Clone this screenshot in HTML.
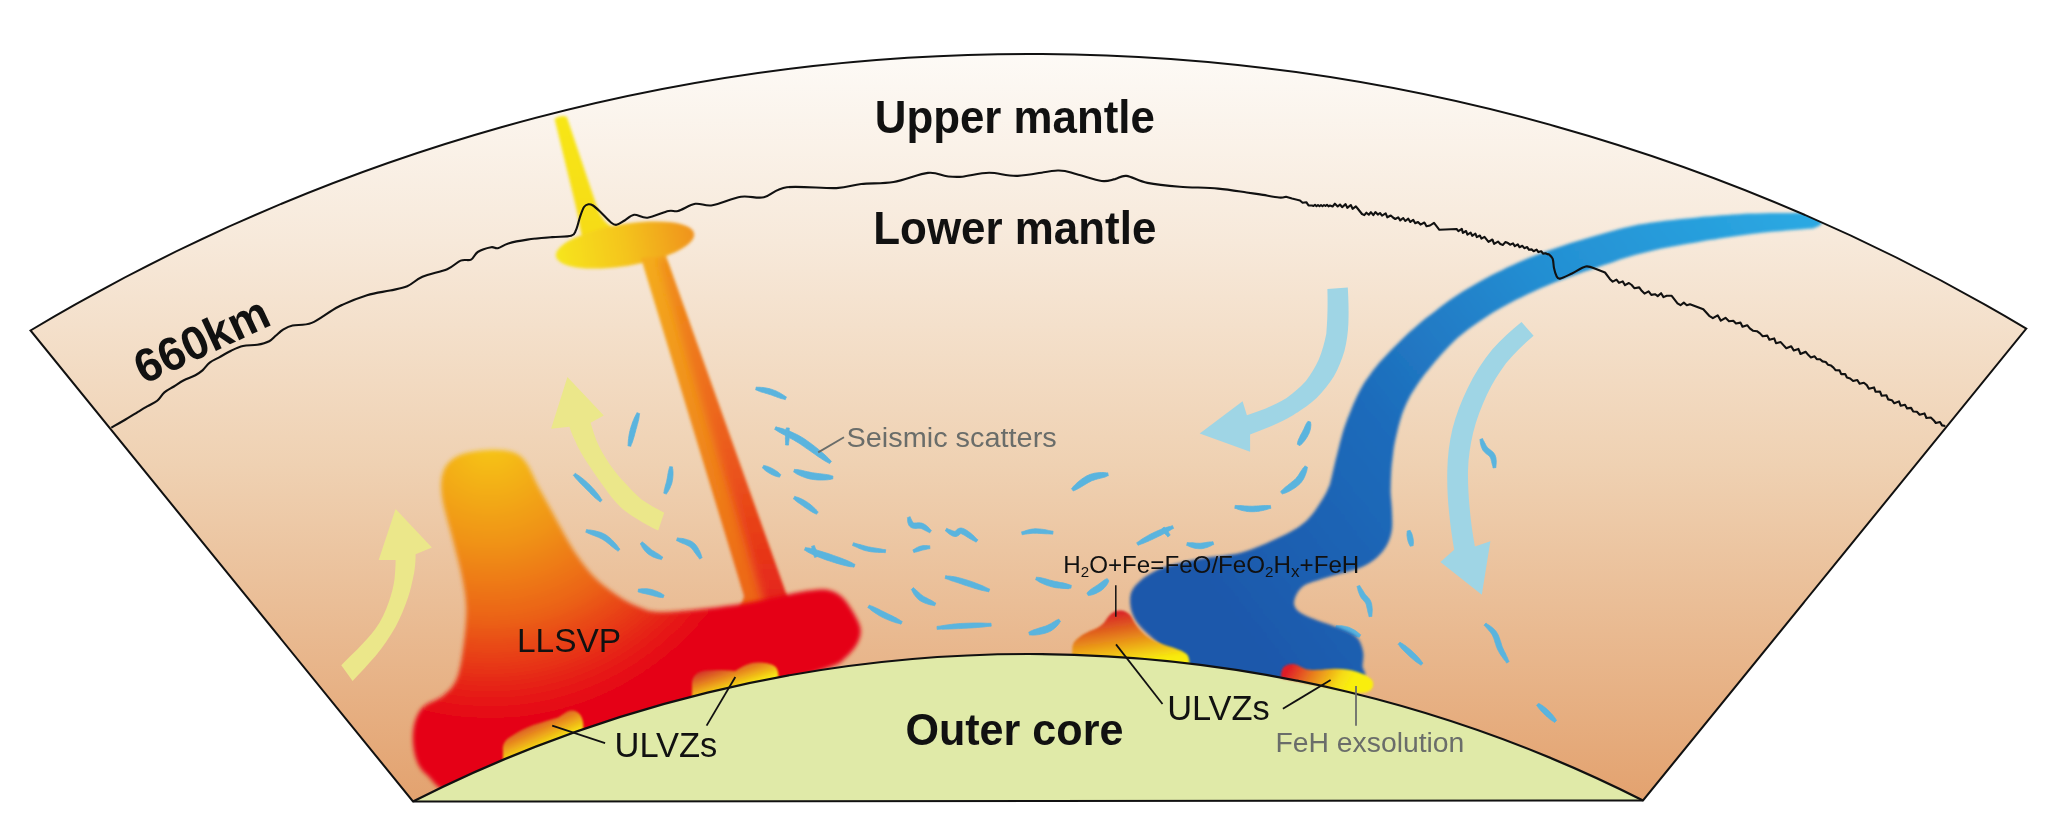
<!DOCTYPE html>
<html><head><meta charset="utf-8">
<style>
html,body{margin:0;padding:0;background:#fff;}
body{width:2048px;height:839px;overflow:hidden;}
svg{display:block;}
text{font-family:"Liberation Sans",sans-serif;}
</style></head>
<body>
<svg width="2048" height="839" viewBox="0 0 2048 839">
<defs>
  <linearGradient id="gM" x1="0" y1="55" x2="0" y2="801" gradientUnits="userSpaceOnUse">
    <stop offset="0" stop-color="#fdfaf6"/>
    <stop offset="0.25" stop-color="#f7e9da"/>
    <stop offset="0.55" stop-color="#efd1b2"/>
    <stop offset="1" stop-color="#e3a26f"/>
  </linearGradient>
  <radialGradient id="gL" cx="490" cy="440" r="300" gradientUnits="userSpaceOnUse">
    <stop offset="0" stop-color="#f6c81a"/>
    <stop offset="0.35" stop-color="#f09218"/>
    <stop offset="0.6" stop-color="#eb6216"/>
    <stop offset="0.8" stop-color="#e62a18"/>
    <stop offset="0.95" stop-color="#e50014"/>
  </radialGradient>
  <linearGradient id="gS" x1="1800" y1="215" x2="1250" y2="640" gradientUnits="userSpaceOnUse">
    <stop offset="0" stop-color="#2aa8e2"/>
    <stop offset="0.35" stop-color="#238ed2"/>
    <stop offset="0.65" stop-color="#1e6cbb"/>
    <stop offset="1" stop-color="#1c58ab"/>
  </linearGradient>
  <linearGradient id="gD" x1="556" y1="0" x2="694" y2="0" gradientUnits="userSpaceOnUse">
    <stop offset="0" stop-color="#f6e51c"/>
    <stop offset="0.5" stop-color="#f4c41c"/>
    <stop offset="1" stop-color="#f0931b"/>
  </linearGradient>
  <linearGradient id="gC" x1="0" y1="117" x2="0" y2="250" gradientUnits="userSpaceOnUse">
    <stop offset="0" stop-color="#f7e612"/>
    <stop offset="1" stop-color="#f6da12"/>
  </linearGradient>
  <linearGradient id="gT" x1="650" y1="260" x2="760" y2="600" gradientUnits="userSpaceOnUse">
    <stop offset="0" stop-color="#f4ab1c"/>
    <stop offset="0.5" stop-color="#f08a1a"/>
    <stop offset="1" stop-color="#ec6418"/>
  </linearGradient>
  <linearGradient id="gT2" x1="0" y1="260" x2="0" y2="600" gradientUnits="userSpaceOnUse">
    <stop offset="0" stop-color="#ee7a1a" stop-opacity="0.55"/>
    <stop offset="0.5" stop-color="#ea501a" stop-opacity="0.7"/>
    <stop offset="1" stop-color="#e41e1c" stop-opacity="0.9"/>
  </linearGradient>
  <clipPath id="cpStem"><path d="M641,258 L666,256 L787,596 Q792,604 800,608 L735,612 Q742,606 744,596 Z"/></clipPath>
  <filter id="b4" x="-50%" y="-10%" width="200%" height="120%"><feGaussianBlur stdDeviation="4"/></filter>
  <linearGradient id="gU1" x1="0.15" y1="0.05" x2="0.7" y2="0.95">
    <stop offset="0" stop-color="#d2302a"/>
    <stop offset="0.45" stop-color="#e98e1e"/>
    <stop offset="0.8" stop-color="#f7e213"/>
    <stop offset="1" stop-color="#f9ee10"/>
  </linearGradient>
  <linearGradient id="gU2" x1="0.35" y1="0" x2="0.65" y2="1">
    <stop offset="0" stop-color="#d81a2a"/>
    <stop offset="0.3" stop-color="#e0621e"/>
    <stop offset="0.7" stop-color="#f2c614"/>
    <stop offset="0.85" stop-color="#f8ea10"/>
    <stop offset="1" stop-color="#f9ee10"/>
  </linearGradient>
  <linearGradient id="gUa" x1="533" y1="716" x2="548" y2="750" gradientUnits="userSpaceOnUse">
    <stop offset="0" stop-color="#d2302a"/>
    <stop offset="0.45" stop-color="#e98e1e"/>
    <stop offset="0.85" stop-color="#f7e213"/>
    <stop offset="1" stop-color="#f9ee10"/>
  </linearGradient>
  <linearGradient id="gUb" x1="728" y1="662" x2="738" y2="692" gradientUnits="userSpaceOnUse">
    <stop offset="0" stop-color="#d2302a"/>
    <stop offset="0.45" stop-color="#e98e1e"/>
    <stop offset="0.85" stop-color="#f7e213"/>
    <stop offset="1" stop-color="#f9ee10"/>
  </linearGradient>
  <linearGradient id="gUc" x1="1292" y1="662" x2="1345" y2="694" gradientUnits="userSpaceOnUse">
    <stop offset="0" stop-color="#e01a28"/>
    <stop offset="0.4" stop-color="#e8801e"/>
    <stop offset="0.8" stop-color="#f6dc14"/>
    <stop offset="1" stop-color="#f9ee10"/>
  </linearGradient>
  <filter id="b3" x="-20%" y="-20%" width="140%" height="140%"><feGaussianBlur stdDeviation="2.6"/></filter>
  <filter id="b25" x="-20%" y="-20%" width="140%" height="140%"><feGaussianBlur stdDeviation="2.2"/></filter>
  <filter id="b2" x="-20%" y="-20%" width="140%" height="140%"><feGaussianBlur stdDeviation="1.8"/></filter>
  <filter id="b1" x="-20%" y="-20%" width="140%" height="140%"><feGaussianBlur stdDeviation="0.8"/></filter>
  <clipPath id="cpM"><path d="M30.5,330.5 A1944,1944 0 0 1 2026.3,328.6 L1643,800.5 A1360,1360 0 0 0 413,801.5 Z"/></clipPath>
</defs>
<rect width="2048" height="839" fill="#fff"/>
<!-- mantle -->
<path d="M30.5,330.5 A1944,1944 0 0 1 2026.3,328.6 L1643,800.5 L413,801.5 Z" fill="url(#gM)"/>
<!-- core -->
<path d="M413,801.5 A1360,1360 0 0 1 1643,800.5 Z" fill="#e0eaa8"/>

<g clip-path="url(#cpM)">
  <!-- plume column -->
  <g filter="url(#b2)">
    <path d="M554.6,119 Q560,114.5 566.8,116.8 L597,207 Q602,223 616,229 L600,250 L585,250 L580,228 Q578,215 575,203 Z" fill="url(#gC)"/>
    <ellipse cx="625" cy="245" rx="70" ry="21" transform="rotate(-9.3 625 245)" fill="url(#gD)"/>
    <path d="M641,258 L666,256 L787,596 Q792,604 800,608 L735,612 Q742,606 744,596 Z" fill="url(#gT)"/>
    <path d="M657,258 L685,256 L812,612 L767,612 Z" fill="url(#gT2)" filter="url(#b4)" clip-path="url(#cpStem)"/>
  </g>
  <!-- LLSVP -->
  <path d="M444.1,469.7C447.1,462.8 452.6,458.3 460,455C467.4,451.7 479.5,450.4 488.2,449.9C496.9,449.4 505.8,450 512,452C518.2,454 521.3,456.1 525.7,462C530.1,467.9 534.3,479.1 538.6,487.2C542.9,495.3 547.2,502.9 551.5,510.8C555.8,518.7 560,526.9 564.3,534.4C568.6,541.9 572.2,548.6 577.2,555.8C582.2,562.9 588,570.9 594.4,577.3C600.8,583.7 608.3,589.4 615.8,594.4C623.3,599.4 631.2,604.4 639.4,607.3C647.5,610.2 649.5,612.3 664.7,612C680,611.7 710.3,608.4 730.9,605.5C751.5,602.6 775,596.9 788.2,594.4C801.4,591.9 803.4,591.2 810,590.5C816.6,589.8 822.7,588.9 828,590C833.3,591.1 837.8,593.3 842,597C846.2,600.7 849.9,606.7 853,612C856.1,617.3 859.8,623.7 860.5,629C861.2,634.3 859.6,639.2 857,644C854.4,648.8 849.5,654.2 845,658C840.5,661.8 844.2,661.7 830,667C815.8,672.3 785,682.5 760,690C735,697.5 706.7,704.2 680,712C653.3,719.8 626.7,728 600,737C573.3,746 544.2,756.8 520,766C495.8,775.2 470.6,790.6 455,792C439.4,793.4 433.1,780.4 426.5,774.5C419.9,768.6 417.7,764.2 415.5,756.9C413.3,749.5 412.2,738.5 413.3,730.4C414.4,722.3 416.9,714.2 422,708.3C427.1,702.4 438.3,700.2 444.2,695C450.1,689.8 454.1,686.1 457.4,677.3C460.7,668.5 462.5,653.8 464,642C465.5,630.2 466.7,617.7 466.3,606.7C465.9,595.7 464,586.8 461.8,575.8C459.6,564.8 456.3,553.6 453,540.4C449.7,527.1 443.5,508.1 442,496.3C440.5,484.5 441.1,476.6 444.1,469.7Z" fill="url(#gL)" filter="url(#b25)"/>
  <!-- yellow arrows -->
  <g fill="#ebe78a">
    <path d="M341.3,665.2 C347,659 352,654.5 357.2,649.4 C364,642.5 370,636 375.3,629 C381,621 385.5,612 388.8,601.9 C391.5,594 393.5,587 394.5,579.2 C395.2,572 395.6,566 395.6,560 L378.7,560 L395.6,509 L431.9,547.5 L415.6,554.3 C415.6,561 415.2,566.5 414.2,572.4 C412.5,581 410.8,589 408.1,597.3 C404.5,608 400.5,617.5 395.6,626.8 C389.5,637.5 383,647 375.3,656.2 C368,664.5 361,672 352.6,681.1 Z"/>
    <path d="M658.2,530.6 C651,527 643.5,523 636.7,518.7 C630.5,515 625,511 620.1,506.7 C614.5,501 609.3,494.5 604.6,487.7 C598.5,479.5 593,471.5 587.9,463.8 C582.5,455.5 578,448 574.8,440 C572.5,435.5 570.8,431 569.4,426.7 L551.1,428.8 L567.4,377.1 L603.8,415.6 L590.6,422.7 C592.3,428.5 594.2,434.3 596.2,440 C599.8,448.5 604.3,456.3 609.3,463.8 C614.3,471 619.8,477.8 626,484.1 C630.8,489.5 636,494.8 641.5,499.6 C648.7,504.5 656.3,508.8 664.2,512.7 Z"/>
  </g>
  <!-- blue arrows -->
  <g fill="#9fd5e5">
    <path d="M1327.4,289 L1347.8,287.5 C1348.5,300 1348.8,311 1348.4,322.9 C1348,332.5 1346.8,341.8 1344.5,350.8 C1341.8,360 1338.3,368.5 1333.8,376.6 C1328.8,384.5 1323,391.5 1316.6,398 C1309.2,404.5 1301.5,410.2 1293,415.2 C1286,419.3 1279,422.8 1271.6,426 C1264.5,429 1257.5,431.8 1250.1,434.5 L1250.1,451.7 L1199.7,433.5 L1242.6,401.3 L1246.9,415.2 C1253.2,413.2 1259.2,411.2 1265.1,408.8 C1272.5,405.6 1279.8,402 1286.6,398 C1293.5,393 1300,387.5 1305.9,380.9 C1310.8,374.5 1315.2,367.3 1318.8,359.4 C1322.2,351 1324.6,342.5 1326.3,333.7 C1327.6,319 1327.8,304 1327.4,289 Z"/>
    <path d="M1521.5,321.9 C1511,330.5 1501,339.5 1492.2,349.5 C1483,361 1474.6,373.6 1468,387.5 C1461.3,401 1456,415 1452.4,429 C1449.2,442.5 1447.6,456.5 1447.3,470.4 C1447,484.5 1447.6,498 1449,511.8 C1450.2,524.5 1452,537 1454.2,549.8 L1440.4,561.9 L1481.8,594.7 L1490.4,541.2 L1474.9,546.4 C1472.6,534 1470.8,521 1469.7,508.4 C1468.5,495.5 1467.8,483 1468,470.4 C1468.3,457.5 1470.3,444.8 1473.2,432.4 C1476.6,419 1481.3,406.5 1487,394.4 C1492.3,383.3 1498.8,373 1506,363.3 C1514.3,353.3 1523.5,344 1533.6,335.7 Z"/>
  </g>
  <!-- squiggles -->
  <g fill="#5ab4de" stroke="#5ab4de" stroke-width="0.8" stroke-linejoin="round"><path d="M636.9,412.7 636.6,413.6 636.1,414.5 635.5,415.6 634.9,416.9 634.2,418.3 633.6,419.9 632.9,421.4 632.3,423 631.8,424.7 631.2,426.3 630.8,427.8 630.3,429.3 630,430.7 629.6,432.3 629.3,433.8 629,435.4 628.8,437 628.6,438.6 628.4,440 628.3,441.5 628.2,442.8 628.2,443.9 628.1,444.9 627.9,445.7 630.9,446.3 631,445.5 631.3,444.6 631.8,443.5 632.3,442.3 632.7,441 633.2,439.5 633.6,438.1 634.1,436.6 634.5,435 634.9,433.5 635.3,432.1 635.7,430.7 636,429.3 636.5,427.8 636.9,426.3 637.3,424.6 637.8,423 638.2,421.3 638.6,419.8 638.9,418.2 639.1,416.8 639.3,415.5 639.5,414.5 639.7,413.7Z"/><path d="M669.6,466.7 669.5,467.4 669.3,468.2 669,469.2 668.7,470.4 668.4,471.6 668.2,472.9 667.9,474.2 667.7,475.6 667.5,476.9 667.3,478.1 667,479.3 666.8,480.4 666.6,481.4 666.3,482.6 666,483.7 665.6,484.9 665.3,486.1 665,487.3 664.7,488.5 664.4,489.6 664.2,490.7 664.1,491.7 663.9,492.5 663.7,493.1 666.5,494.1 666.7,493.5 667.1,492.8 667.7,492.1 668.3,491.1 668.8,490.1 669.4,489 670,487.9 670.5,486.6 671,485.4 671.5,484.1 671.9,482.8 672.2,481.6 672.4,480.3 672.6,479 672.8,477.6 672.9,476.2 673,474.7 673,473.3 673,472 672.9,470.7 672.8,469.5 672.6,468.5 672.5,467.6 672.6,466.9Z"/><path d="M573.3,475.4 574,476 574.7,476.9 575.5,477.9 576.5,479.1 577.6,480.3 578.7,481.5 579.9,482.8 581.2,484.1 582.5,485.4 583.7,486.6 584.9,487.8 586.1,488.9 587.2,490.1 588.4,491.3 589.7,492.6 591,493.9 592.3,495.2 593.6,496.5 594.9,497.7 596.2,498.8 597.4,499.8 598.5,500.6 599.4,501.4 600,502.1 602.2,500.1 601.6,499.4 600.9,498.5 600.2,497.3 599.3,496 598.3,494.6 597.2,493.2 596,491.8 594.8,490.3 593.6,488.9 592.3,487.6 591.1,486.3 589.9,485.1 588.7,483.9 587.5,482.7 586.1,481.5 584.7,480.3 583.3,479.1 581.9,478 580.6,477 579.3,476 578,475.2 576.9,474.5 576,473.8 575.3,473.2Z"/><path d="M585.8,532.3 586.6,532.6 587.7,533 589,533.6 590.4,534.2 591.9,534.8 593.5,535.4 595.1,536 596.8,536.7 598.4,537.3 599.9,538 601.3,538.7 602.6,539.4 603.8,540.2 605.2,541.1 606.6,542.2 608,543.3 609.5,544.5 610.9,545.7 612.4,546.9 613.7,548 615,549 616.3,549.8 617.3,550.6 618,551.3 620,549.1 619.3,548.5 618.5,547.5 617.7,546.3 616.7,545 615.5,543.6 614.3,542.2 612.9,540.8 611.5,539.4 610,538 608.5,536.8 606.9,535.6 605.4,534.6 603.8,533.8 602.1,533 600.3,532.3 598.5,531.8 596.6,531.3 594.8,530.8 593.1,530.5 591.5,530.2 589.9,530 588.6,529.9 587.5,529.7 586.6,529.5Z"/><path d="M640.2,543.8 640.6,544.2 641,544.9 641.4,545.7 641.9,546.6 642.4,547.6 643.1,548.6 643.8,549.6 644.6,550.6 645.5,551.6 646.4,552.5 647.4,553.4 648.4,554.2 649.4,554.9 650.6,555.6 651.8,556.3 653,556.9 654.3,557.4 655.5,557.9 656.8,558.3 658,558.7 659.1,559 660.1,559.1 660.9,559.4 661.4,559.6 662.8,557 662.2,556.7 661.4,556.2 660.6,555.5 659.7,554.9 658.7,554.2 657.6,553.5 656.5,552.9 655.4,552.2 654.4,551.6 653.4,550.9 652.4,550.4 651.6,549.8 650.9,549.2 650.1,548.5 649.3,547.8 648.4,547 647.5,546.2 646.7,545.4 645.8,544.7 645,544 644.2,543.3 643.4,542.8 642.8,542.3 642.4,541.8Z"/><path d="M676.5,540.6 677.3,540.9 678.2,541.3 679.3,541.9 680.5,542.4 681.8,543 683.2,543.6 684.6,544.1 685.9,544.7 687.2,545.3 688.4,545.9 689.4,546.6 690.3,547.1 691,547.8 691.9,548.7 692.7,549.7 693.6,550.8 694.4,552 695.3,553.2 696.2,554.4 697,555.6 697.8,556.6 698.6,557.5 699.2,558.4 699.6,559.1 702.2,557.5 701.8,556.9 701.4,556 701.1,554.8 700.7,553.6 700.1,552.2 699.5,550.8 698.7,549.4 697.9,547.9 697,546.5 696,545.2 694.9,543.9 693.7,542.9 692.4,541.9 690.9,541.1 689.4,540.4 687.8,539.9 686.3,539.4 684.7,539 683.1,538.6 681.7,538.4 680.4,538.3 679.2,538.2 678.2,538 677.5,537.8Z"/><path d="M638.1,592 638.7,592.1 639.4,592.2 640.2,592.5 641.1,592.8 642,593 643.1,593.3 644.1,593.5 645.2,593.7 646.3,594 647.4,594.2 648.4,594.4 649.4,594.7 650.4,594.9 651.5,595.2 652.8,595.6 654.1,595.9 655.4,596.3 656.7,596.6 658,596.9 659.3,597.2 660.5,597.4 661.5,597.5 662.5,597.6 663.1,597.8 664.1,595 663.4,594.8 662.6,594.3 661.8,593.7 660.7,593.1 659.6,592.5 658.3,592 657,591.4 655.7,590.9 654.4,590.4 653.1,590 651.8,589.6 650.6,589.3 649.4,589.1 648.3,588.9 647,588.8 645.9,588.7 644.7,588.7 643.5,588.7 642.5,588.7 641.4,588.8 640.5,588.9 639.7,589.1 639,589.1 638.5,589Z"/><path d="M755.7,390 756.4,390.1 757.3,390.4 758.3,390.9 759.5,391.3 760.7,391.8 762.1,392.2 763.5,392.6 764.9,393 766.3,393.4 767.6,393.8 768.9,394.2 770.1,394.6 771.4,395 772.7,395.5 774,396 775.5,396.5 776.9,397.1 778.4,397.6 779.8,398.1 781.1,398.5 782.4,398.8 783.5,399.1 784.5,399.4 785.2,399.7 786.4,396.9 785.7,396.6 784.9,396.1 783.9,395.4 782.8,394.7 781.6,393.9 780.3,393.2 778.9,392.4 777.5,391.7 776.1,391 774.6,390.4 773.2,389.9 771.9,389.4 770.5,389 769,388.6 767.6,388.3 766,388 764.5,387.7 763.1,387.5 761.6,387.4 760.3,387.3 759.1,387.2 758,387.3 757,387.2 756.3,387Z"/><path d="M774.7,429.5 775.9,430 777.2,430.9 778.8,431.9 780.6,432.9 782.5,434 784.6,435.1 786.8,436.3 789.1,437.5 791.4,438.8 793.8,440.1 796,441.4 798.3,442.8 800.6,444.3 803.2,446.1 806,448.1 809,450.1 812,452.2 815,454.3 817.9,456.4 820.8,458.3 823.4,460 825.9,461.5 828,462.6 829.6,463.6 831.4,461.2 830,460 828.4,458.2 826.3,456.2 824,454.1 821.4,451.9 818.6,449.5 815.7,447.2 812.8,444.9 809.8,442.7 807,440.7 804.3,438.8 801.7,437.2 799.3,435.8 796.8,434.5 794.2,433.3 791.7,432.1 789.2,431.1 786.9,430.2 784.6,429.4 782.4,428.6 780.4,428.1 778.6,427.6 777.1,427.3 775.9,426.7Z"/><path d="M786.3,427.9 786.2,429.3 786.1,430.8 785.9,432.2 785.7,433.6 785.6,435 785.5,436.4 785.4,437.8 785.4,439.2 785.5,440.7 785.6,442.1 785.6,443.5 785.5,444.9 788.5,445.1 788.6,443.7 788.7,442.2 788.9,440.8 789.1,439.4 789.2,438 789.3,436.6 789.4,435.2 789.4,433.8 789.3,432.3 789.2,430.9 789.2,429.5 789.3,428.1Z"/><path d="M762.4,467.9 762.7,468.1 763.2,468.4 763.6,469 764.1,469.5 764.7,470 765.3,470.5 766,471.1 766.7,471.6 767.5,472.1 768.2,472.5 769,473 769.7,473.4 770.4,473.8 771.2,474.3 772.1,474.7 773,475.1 774,475.5 774.9,475.9 775.8,476.2 776.7,476.5 777.5,476.7 778.3,476.8 778.9,477 779.4,477.2 780.8,474.6 780.4,474.3 779.9,473.9 779.3,473.3 778.7,472.7 778,472.1 777.2,471.6 776.4,471 775.5,470.4 774.7,469.9 773.9,469.4 773.1,469 772.3,468.6 771.6,468.2 770.8,467.8 770,467.5 769.2,467.1 768.4,466.8 767.6,466.4 766.8,466.2 766.1,466 765.4,465.8 764.7,465.7 764.2,465.5 763.8,465.3Z"/><path d="M793.7,472.1 794.5,472.4 795.4,473.1 796.5,473.8 797.8,474.5 799.3,475.2 800.9,475.9 802.5,476.6 804.3,477.3 806.1,477.9 807.9,478.4 809.7,478.9 811.4,479.2 813.2,479.5 815.2,479.7 817.2,479.9 819.3,480 821.3,480 823.4,480 825.3,479.9 827.2,479.8 828.9,479.6 830.4,479.4 831.7,479 832.7,479 832.9,476 831.9,475.9 830.6,475.4 829.1,475 827.4,474.7 825.6,474.4 823.7,474.2 821.7,473.9 819.7,473.7 817.8,473.5 815.9,473.2 814.1,473 812.6,472.8 811,472.5 809.4,472.1 807.7,471.8 806,471.4 804.3,471 802.6,470.6 801,470.2 799.4,469.9 798,469.7 796.6,469.5 795.4,469.5 794.5,469.3Z"/><path d="M793.4,498.9 793.9,499.2 794.5,499.6 795.1,500.3 795.9,500.9 796.7,501.6 797.6,502.2 798.6,502.9 799.6,503.6 800.6,504.3 801.6,505 802.5,505.6 803.5,506.3 804.4,507 805.5,507.7 806.7,508.5 807.9,509.3 809.1,510.1 810.3,510.9 811.6,511.7 812.8,512.4 813.9,512.9 814.9,513.4 815.8,513.8 816.4,514.3 818.2,511.9 817.6,511.5 817,510.7 816.2,509.9 815.4,508.9 814.4,508 813.3,507 812.2,506 811,505 809.9,504.1 808.7,503.2 807.6,502.4 806.5,501.7 805.5,501.1 804.4,500.4 803.3,499.8 802.1,499.2 801,498.7 799.9,498.2 798.9,497.8 797.9,497.4 796.9,497.1 796,496.9 795.4,496.6 794.8,496.3Z"/><path d="M804.5,550.2 805.4,550.5 806.4,551.2 807.7,552 809,552.7 810.6,553.5 812.2,554.3 814,555.1 815.9,555.9 817.8,556.7 819.8,557.5 821.9,558.3 823.9,559.1 826.2,559.9 828.7,560.7 831.4,561.6 834.2,562.5 837.1,563.4 840,564.2 842.9,565 845.7,565.7 848.2,566.3 850.5,566.7 852.5,566.8 854,567.2 855,564.4 853.5,563.8 851.8,562.7 849.7,561.7 847.3,560.6 844.7,559.6 842,558.5 839.1,557.4 836.2,556.4 833.4,555.4 830.8,554.5 828.3,553.6 826.1,552.9 824,552.3 821.9,551.6 819.9,551 817.9,550.4 815.9,549.8 814.1,549.3 812.3,548.8 810.6,548.4 809.1,548.1 807.7,547.9 806.5,547.7 805.5,547.4Z"/><path d="M811.6,546.4 811.8,547.3 812,548.2 812.1,549.2 812.2,550.2 812.4,551.1 812.6,552 812.9,552.9 813.2,553.8 813.6,554.7 814,555.6 814.3,556.5 814.6,557.4 817.4,556.6 817.2,555.7 817,554.8 816.9,553.8 816.8,552.8 816.6,551.9 816.4,551 816.1,550.1 815.8,549.2 815.4,548.3 815,547.4 814.7,546.5 814.4,545.6Z"/><path d="M907.4,517.7 907.5,518 907.6,518.5 907.6,519.1 907.6,519.9 907.6,520.7 907.7,521.6 907.9,522.6 908.2,523.5 908.5,524.5 909,525.4 909.7,526.3 910.6,527.1 911.6,527.7 912.7,528.1 913.8,528.3 914.8,528.4 915.8,528.4 916.8,528.4 917.7,528.3 918.5,528.3 919.3,528.3 920,528.3 920.6,528.4 921.1,528.5 921.7,528.7 922.4,529 923.1,529.4 923.9,529.8 924.7,530.2 925.6,530.7 926.4,531.1 927.2,531.5 928,531.9 928.7,532.2 929.2,532.6 929.6,532.9 931.4,530.5 931,530.2 930.5,529.8 930.1,529.2 929.5,528.6 928.9,527.9 928.2,527.1 927.4,526.4 926.6,525.8 925.7,525.1 924.8,524.5 923.9,524 922.9,523.5 921.8,523.1 920.6,522.9 919.6,522.8 918.5,522.8 917.5,522.8 916.6,522.9 915.7,522.9 915,523 914.3,523 913.8,522.9 913.6,522.9 913.4,522.9 913.3,522.8 913.1,522.6 912.8,522.2 912.5,521.7 912.1,521.1 911.8,520.5 911.5,519.8 911.1,519.1 910.8,518.4 910.5,517.8 910.4,517.2 910.2,516.7Z"/><path d="M945.3,530.9 945.7,531.1 946.2,531.5 946.8,531.9 947.5,532.6 948.2,533.2 949,533.8 949.9,534.4 950.8,535 951.7,535.5 952.7,536 953.7,536.3 954.8,536.5 956.1,536.5 957.3,536.1 958.2,535.6 959,535 959.5,534.5 960,534.1 960.3,533.8 960.6,533.6 960.7,533.6 960.8,533.6 960.9,533.6 961.2,533.6 961.9,533.9 962.9,534.4 964.1,535.1 965.5,535.9 967,536.9 968.5,537.8 970,538.8 971.5,539.6 973,540.4 974.3,541.1 975.4,541.7 976.1,542.2 977.9,539.8 977.1,539.3 976.3,538.4 975.3,537.4 974.1,536.2 972.8,535 971.4,533.8 969.9,532.6 968.4,531.5 967,530.5 965.5,529.6 964.2,528.9 962.8,528.4 961.4,528.1 960,528.1 958.8,528.5 957.7,529 956.9,529.6 956.3,530.2 955.8,530.7 955.4,531.1 955.2,531.3 955.1,531.4 955.2,531.4 955.2,531.5 954.9,531.4 954.3,531.3 953.6,531.1 952.8,530.9 952,530.5 951.1,530.2 950.2,529.8 949.3,529.5 948.5,529.2 947.8,528.9 947.2,528.5 946.7,528.3Z"/><path d="M1022.2,534.8 1022.8,534.6 1023.6,534.5 1024.5,534.3 1025.5,534.1 1026.6,534 1027.7,533.8 1028.9,533.7 1030.1,533.5 1031.4,533.4 1032.6,533.3 1033.8,533.2 1035,533.2 1036.3,533.2 1037.8,533.3 1039.4,533.4 1041.1,533.5 1042.8,533.6 1044.5,533.7 1046.2,533.8 1047.9,533.8 1049.4,533.9 1050.7,534 1051.8,534.1 1052.7,534.2 1053.1,531.2 1052.2,531.1 1051.1,531 1049.8,530.7 1048.3,530.4 1046.7,530 1045,529.7 1043.2,529.4 1041.5,529.2 1039.7,529 1038,528.9 1036.4,528.8 1035,528.8 1033.6,528.9 1032.2,529.1 1030.8,529.3 1029.4,529.6 1028.2,529.9 1026.9,530.3 1025.8,530.6 1024.8,531 1023.8,531.3 1022.9,531.5 1022.2,531.7 1021.6,531.8Z"/><path d="M852.5,545.5 853.2,545.8 854.1,546.1 855.1,546.5 856.2,547 857.5,547.6 858.8,548.2 860.2,548.8 861.6,549.3 863.1,549.9 864.6,550.4 866.1,550.8 867.5,551.1 869,551.4 870.6,551.7 872.3,551.9 874,552.1 875.8,552.2 877.5,552.3 879.1,552.4 880.7,552.4 882.1,552.4 883.4,552.5 884.5,552.6 885.3,552.7 885.7,549.7 884.8,549.6 883.7,549.5 882.4,549.3 881,549 879.5,548.7 877.9,548.5 876.2,548.2 874.6,547.9 872.9,547.7 871.3,547.4 869.8,547.1 868.5,546.9 867.2,546.6 865.8,546.2 864.3,545.8 862.9,545.4 861.5,545 860,544.6 858.7,544.3 857.4,543.9 856.2,543.6 855.1,543.3 854.2,542.9 853.5,542.7Z"/><path d="M913.9,552.6 914.4,552.4 914.9,552.2 915.6,552 916.3,551.9 917.1,551.7 917.9,551.5 918.8,551.2 919.6,551 920.4,550.7 921.2,550.5 921.9,550.3 922.5,550.1 923.1,550 923.8,549.8 924.5,549.7 925.2,549.6 925.9,549.4 926.6,549.3 927.2,549.1 927.9,548.9 928.5,548.8 929,548.8 929.5,548.7 929.9,548.7 929.7,545.7 929.3,545.7 928.9,545.8 928.3,545.8 927.7,545.7 927,545.6 926.3,545.5 925.5,545.5 924.7,545.5 923.9,545.5 923.1,545.6 922.3,545.7 921.5,545.9 920.7,546.1 919.8,546.3 919,546.7 918.1,547 917.3,547.4 916.5,547.8 915.7,548.3 915,548.7 914.4,549.1 913.8,549.4 913.3,549.6 912.9,549.8Z"/><path d="M945.1,578.6 945.8,578.7 946.6,578.9 947.5,579.2 948.5,579.6 949.6,580 950.7,580.4 952,580.9 953.4,581.3 954.9,581.8 956.4,582.3 958.1,582.8 959.8,583.4 961.8,584.1 964.1,584.9 966.6,585.7 969.3,586.6 972.2,587.5 975,588.4 977.8,589.2 980.5,590 983.1,590.6 985.4,591.1 987.3,591.4 988.7,591.9 989.7,589.1 988.3,588.6 986.5,587.7 984.4,586.7 982,585.6 979.4,584.6 976.7,583.5 973.9,582.4 971.1,581.4 968.3,580.5 965.8,579.7 963.4,579 961.4,578.4 959.5,577.9 957.8,577.5 956.1,577.1 954.5,576.8 953.1,576.6 951.7,576.4 950.4,576.2 949.2,576.1 948.2,576.1 947.2,576 946.4,575.8 945.7,575.6Z"/><path d="M911.3,589.6 911.7,590 912.1,590.7 912.4,591.5 912.9,592.4 913.5,593.4 914.1,594.5 914.9,595.5 915.7,596.6 916.6,597.6 917.5,598.6 918.5,599.5 919.6,600.4 920.8,601.1 922.1,601.8 923.5,602.5 924.9,603.1 926.4,603.6 927.8,604.1 929.2,604.5 930.6,604.9 931.9,605.1 933,605.3 933.9,605.5 934.6,605.8 935.8,603 935.1,602.7 934.2,602.2 933.3,601.5 932.2,600.9 931,600.2 929.7,599.6 928.4,598.9 927.1,598.2 925.8,597.6 924.7,597 923.6,596.4 922.8,595.8 922,595.3 921.1,594.6 920.3,593.9 919.4,593.1 918.6,592.3 917.7,591.5 916.9,590.7 916.1,589.9 915.3,589.3 914.5,588.7 914,588.1 913.5,587.6Z"/><path d="M867.8,607.6 868.5,608 869.3,608.5 870.2,609.3 871.2,610.2 872.3,611.1 873.6,611.9 874.9,612.8 876.3,613.7 877.7,614.6 879.1,615.5 880.5,616.3 882,617.1 883.5,617.8 885.1,618.6 886.8,619.3 888.7,620.1 890.5,620.8 892.3,621.5 894.1,622.1 895.8,622.7 897.4,623.1 898.9,623.4 900.1,623.8 901,624.2 902.2,621.4 901.3,621 900.2,620.4 899,619.6 897.5,618.7 896,617.8 894.3,617 892.6,616.1 890.8,615.2 889.1,614.4 887.4,613.6 885.8,612.8 884.4,612.1 883.1,611.5 881.7,610.8 880.2,610 878.8,609.3 877.3,608.6 875.9,607.9 874.6,607.3 873.3,606.7 872.1,606.2 870.9,605.9 870.1,605.4 869.4,605Z"/><path d="M937.2,629.4 938.3,629.3 939.7,629.2 941.3,629.1 943.1,629.2 945,629.1 947.1,629.1 949.3,629 951.6,628.9 953.9,628.8 956.2,628.7 958.5,628.6 960.7,628.5 963.1,628.3 965.8,628.2 968.6,628.1 971.5,627.9 974.5,627.7 977.4,627.5 980.3,627.2 983,627 985.5,626.7 987.8,626.4 989.7,626.3 991.2,626.2 991,623.2 989.5,623.3 987.6,623.3 985.4,623.2 982.9,623.1 980.1,623 977.2,623 974.3,623 971.3,623.1 968.3,623.2 965.5,623.3 962.9,623.4 960.5,623.5 958.2,623.7 955.8,623.9 953.5,624.1 951.2,624.4 948.9,624.7 946.8,625 944.7,625.3 942.8,625.6 941,625.9 939.4,626.2 938.1,626.3 937,626.4Z"/><path d="M1029.6,635.1 1030.5,634.9 1031.8,635.1 1033.3,635.1 1035,635 1036.8,634.8 1038.7,634.6 1040.6,634.2 1042.6,633.8 1044.4,633.4 1046.3,632.8 1048,632.2 1049.5,631.6 1050.9,630.9 1052.3,630 1053.6,629.1 1054.7,628.2 1055.8,627.2 1056.8,626.2 1057.7,625.3 1058.5,624.3 1059.1,623.5 1059.6,622.6 1060,621.9 1060.5,621.5 1058.7,619.1 1058.1,619.5 1057.3,619.9 1056.3,620.3 1055.4,620.8 1054.4,621.4 1053.4,622 1052.3,622.7 1051.2,623.4 1050.1,624 1049,624.6 1048,625.1 1046.9,625.6 1045.7,626.1 1044.2,626.5 1042.6,627 1040.9,627.6 1039.1,628.1 1037.3,628.7 1035.5,629.3 1033.8,629.8 1032.3,630.5 1030.9,631.1 1029.8,631.8 1028.8,632.1Z"/><path d="M1035.6,579.8 1036.4,580.1 1037.4,580.7 1038.5,581.4 1039.8,582.2 1041.2,582.9 1042.7,583.6 1044.3,584.3 1046,584.9 1047.7,585.6 1049.4,586.1 1051,586.6 1052.6,587 1054.2,587.4 1055.9,587.7 1057.7,587.9 1059.4,588.1 1061.2,588.3 1062.9,588.4 1064.6,588.4 1066.2,588.4 1067.7,588.4 1068.9,588.2 1070,588.1 1070.9,588.2 1071.3,585.2 1070.4,585.1 1069.4,584.7 1068.1,584.3 1066.7,583.9 1065.2,583.5 1063.6,583.1 1061.9,582.8 1060.3,582.5 1058.6,582.1 1057,581.8 1055.4,581.5 1054,581.2 1052.6,580.8 1051,580.4 1049.4,580 1047.8,579.5 1046.1,579 1044.5,578.6 1042.9,578.2 1041.3,577.8 1039.9,577.6 1038.6,577.4 1037.4,577.3 1036.6,577Z"/><path d="M1073.3,491 1074.2,490.5 1075.5,490 1076.9,489.3 1078.5,488.5 1080.1,487.5 1081.8,486.5 1083.5,485.5 1085.2,484.4 1086.9,483.4 1088.5,482.5 1090,481.7 1091.3,481 1092.6,480.5 1094.1,480 1095.6,479.5 1097.3,479 1098.9,478.6 1100.5,478.2 1102.1,477.8 1103.6,477.4 1105,477 1106.3,476.5 1107.4,475.9 1108.3,475.8 1107.7,472.8 1106.9,473 1105.8,472.7 1104.5,472.6 1103,472.5 1101.4,472.5 1099.7,472.6 1097.9,472.8 1096,473 1094.1,473.3 1092.3,473.8 1090.5,474.3 1088.7,475 1086.9,475.8 1085.2,476.8 1083.4,477.9 1081.7,479.1 1080,480.4 1078.3,481.7 1076.8,483.1 1075.4,484.4 1074.2,485.6 1073.1,486.8 1072.3,487.9 1071.5,488.6Z"/><path d="M1088.3,595.6 1089,595.4 1089.9,595.3 1091,595.1 1092.2,594.8 1093.4,594.4 1094.7,593.9 1096,593.4 1097.3,592.7 1098.6,592.1 1099.8,591.4 1100.9,590.7 1101.9,590 1102.9,589.2 1103.8,588.4 1104.6,587.5 1105.4,586.7 1106.1,585.8 1106.8,584.9 1107.3,584.1 1107.8,583.2 1108.2,582.5 1108.5,581.7 1108.7,581 1109.1,580.7 1106.9,578.5 1106.6,578.9 1105.8,579.2 1105.1,579.5 1104.3,580 1103.6,580.5 1102.8,581.1 1102,581.7 1101.2,582.3 1100.4,582.9 1099.6,583.5 1098.8,584.1 1098.1,584.6 1097.3,585.2 1096.3,585.8 1095.3,586.4 1094.2,587.2 1093,587.9 1091.9,588.7 1090.8,589.4 1089.8,590.2 1088.8,591 1088.1,591.8 1087.5,592.6 1086.9,593Z"/><path d="M1059.5,585.7 1060.3,586 1061,586.5 1061.7,587 1062.4,587.3 1063.2,587.7 1064,587.9 1064.7,588.2 1065.5,588.4 1066.3,588.5 1067.2,588.6 1068.1,588.6 1068.8,588.8 1069.8,586 1069,585.7 1068.3,585.2 1067.6,584.7 1066.9,584.4 1066.1,584 1065.3,583.8 1064.6,583.5 1063.8,583.3 1063,583.2 1062.1,583.1 1061.2,583.1 1060.5,582.9Z"/><path d="M1299.8,445.7 1300.2,445.1 1301.1,444.5 1302,443.8 1302.8,442.8 1303.7,441.8 1304.6,440.7 1305.5,439.4 1306.3,438.2 1307.1,437 1307.8,435.7 1308.4,434.5 1309,433.4 1309.4,432.3 1309.8,431.1 1310.1,430 1310.4,428.9 1310.6,427.8 1310.7,426.8 1310.8,425.8 1310.9,424.9 1310.8,424 1310.7,423.3 1310.6,422.6 1310.7,422.1 1307.9,421.3 1307.7,421.8 1307.2,422.3 1306.8,423 1306.3,423.7 1305.9,424.5 1305.5,425.3 1305.1,426.2 1304.7,427.1 1304.3,428 1303.9,428.9 1303.5,429.8 1303,430.6 1302.6,431.5 1302,432.6 1301.4,433.7 1300.7,435 1300.1,436.2 1299.5,437.5 1298.9,438.8 1298.4,440.1 1297.9,441.3 1297.6,442.4 1297.5,443.4 1297.2,444.1Z"/><path d="M1282.4,494.1 1283.2,493.6 1284.5,493.3 1285.9,492.8 1287.5,492.1 1289.2,491.3 1290.9,490.3 1292.6,489.3 1294.4,488.2 1296.1,487 1297.6,485.8 1299.1,484.5 1300.4,483.3 1301.5,481.9 1302.6,480.4 1303.5,478.9 1304.3,477.4 1305,475.8 1305.6,474.3 1306.1,472.8 1306.6,471.4 1306.9,470.1 1307.1,469 1307.2,468 1307.5,467.3 1304.9,465.9 1304.5,466.6 1303.7,467.4 1302.9,468.3 1302.2,469.4 1301.4,470.6 1300.6,471.8 1299.8,473.1 1299,474.3 1298.2,475.6 1297.3,476.7 1296.5,477.8 1295.6,478.7 1294.6,479.7 1293.4,480.7 1292.1,481.8 1290.6,483 1289.1,484.2 1287.6,485.4 1286.1,486.6 1284.7,487.7 1283.4,488.9 1282.3,489.9 1281.4,491 1280.6,491.7Z"/><path d="M1234.8,508.4 1235.6,508.5 1236.6,508.7 1237.7,509.2 1239,509.6 1240.4,510 1242,510.4 1243.6,510.8 1245.3,511.1 1247,511.4 1248.7,511.6 1250.4,511.7 1252,511.7 1253.7,511.7 1255.4,511.6 1257.2,511.4 1259.1,511.2 1260.9,510.8 1262.7,510.5 1264.4,510.1 1266,509.7 1267.5,509.3 1268.8,508.8 1269.9,508.5 1270.8,508.4 1270.4,505.4 1269.5,505.5 1268.3,505.6 1266.9,505.5 1265.4,505.5 1263.8,505.6 1262,505.7 1260.3,505.8 1258.5,505.9 1256.7,506 1255,506.1 1253.4,506.2 1252,506.3 1250.6,506.2 1249.1,506.2 1247.5,506.1 1245.9,506 1244.3,505.9 1242.7,505.7 1241.2,505.6 1239.7,505.6 1238.3,505.6 1237.1,505.6 1236,505.5 1235.2,505.4Z"/><path d="M1138.1,545.3 1138.9,544.9 1140.1,544.4 1141.4,544 1142.9,543.5 1144.5,542.8 1146.2,542.1 1147.9,541.4 1149.6,540.6 1151.4,539.8 1153.1,539 1154.7,538.2 1156.2,537.5 1157.7,536.8 1159.3,536 1161,535.2 1162.7,534.3 1164.4,533.5 1166.1,532.6 1167.7,531.8 1169.1,530.9 1170.5,530.1 1171.7,529.3 1172.7,528.8 1173.6,528.4 1172.4,525.6 1171.5,526 1170.4,526.4 1169,526.7 1167.5,527.1 1165.9,527.6 1164.1,528.2 1162.4,528.9 1160.6,529.6 1158.8,530.3 1157.1,531 1155.4,531.8 1153.8,532.5 1152.3,533.3 1150.6,534.1 1149,535 1147.3,535.9 1145.6,536.9 1144,537.9 1142.4,538.8 1141,539.8 1139.7,540.7 1138.6,541.6 1137.6,542.2 1136.7,542.7Z"/><path d="M1161.8,528.9 1162.3,529.6 1162.7,530.3 1163.1,531 1163.5,531.8 1164,532.5 1164.5,533.2 1165,533.8 1165.5,534.4 1166.1,535 1166.7,535.6 1167.3,536.2 1167.8,536.9 1170.2,535.1 1169.7,534.4 1169.3,533.7 1168.9,533 1168.5,532.2 1168,531.5 1167.5,530.8 1167,530.2 1166.5,529.6 1165.9,529 1165.3,528.4 1164.7,527.8 1164.2,527.1Z"/><path d="M1186.7,545.5 1187.3,545.6 1188.1,545.8 1188.9,546.3 1189.9,546.7 1191,547.1 1192.2,547.5 1193.5,547.9 1194.8,548.2 1196.1,548.4 1197.4,548.6 1198.8,548.7 1200.1,548.7 1201.4,548.7 1202.8,548.5 1204.1,548.2 1205.5,547.8 1206.8,547.5 1208.1,547 1209.3,546.5 1210.4,546.1 1211.4,545.6 1212.3,545 1213,544.7 1213.7,544.6 1212.9,541.6 1212.3,541.8 1211.4,541.9 1210.4,541.9 1209.3,542 1208.1,542.2 1206.9,542.3 1205.6,542.5 1204.3,542.7 1203.1,542.9 1202,543.1 1200.9,543.2 1199.9,543.3 1199,543.3 1197.9,543.2 1196.7,543.2 1195.6,543.1 1194.3,542.9 1193.1,542.8 1191.9,542.7 1190.8,542.7 1189.7,542.7 1188.7,542.7 1187.9,542.6 1187.3,542.5Z"/><path d="M1479.8,439.6 1480,440.1 1480.1,440.6 1480.2,441.4 1480.3,442.2 1480.4,443.1 1480.6,444.1 1480.9,445.1 1481.1,446.1 1481.5,447.1 1481.9,448.1 1482.3,449.1 1482.8,450.1 1483.5,451 1484.2,451.8 1485,452.6 1485.7,453.2 1486.5,453.9 1487.2,454.4 1487.9,455 1488.5,455.5 1489.1,456 1489.5,456.5 1489.9,456.9 1490.2,457.4 1490.5,458 1490.8,458.7 1491.1,459.6 1491.3,460.6 1491.6,461.6 1491.8,462.7 1492.1,463.7 1492.3,464.7 1492.6,465.7 1492.9,466.5 1492.9,467.3 1493,467.9 1496,467.5 1495.9,467 1495.9,466.3 1496,465.4 1496.1,464.4 1496.2,463.3 1496.2,462.2 1496.2,461 1496.1,459.8 1496,458.5 1495.8,457.3 1495.4,456.2 1495,455 1494.4,453.9 1493.7,453 1493,452.1 1492.2,451.4 1491.4,450.7 1490.6,450.1 1489.9,449.6 1489.2,449 1488.6,448.5 1488,448 1487.5,447.6 1487.2,447.1 1486.8,446.6 1486.3,445.9 1485.9,445.2 1485.5,444.4 1485.1,443.5 1484.6,442.7 1484.2,441.9 1483.8,441.1 1483.3,440.4 1483,439.7 1482.8,439.1 1482.6,438.6Z"/><path d="M1407.2,531 1407.2,532.3 1407,533.7 1407,535 1407.1,536.3 1407.3,537.6 1407.5,538.8 1407.8,540.1 1408.1,541.3 1408.5,542.6 1409,543.8 1409.7,545 1410.2,546.2 1413.2,545.6 1413.2,544.3 1413.4,542.9 1413.4,541.6 1413.3,540.3 1413.1,539 1412.9,537.8 1412.6,536.5 1412.3,535.3 1411.9,534 1411.4,532.8 1410.7,531.6 1410.2,530.4Z"/><path d="M1356.9,586.6 1357.2,587.1 1357.4,587.7 1357.6,588.4 1357.8,589.3 1358,590.2 1358.3,591.2 1358.6,592.1 1359,593.1 1359.4,594.1 1359.8,595.1 1360.2,596 1360.7,596.9 1361.2,597.7 1361.7,598.5 1362.3,599.2 1362.9,599.8 1363.4,600.4 1363.9,601 1364.4,601.5 1364.8,602 1365.2,602.5 1365.5,603 1365.8,603.5 1366.1,604.1 1366.3,604.9 1366.6,605.8 1366.8,606.9 1367.1,608.1 1367.4,609.3 1367.6,610.6 1367.9,611.8 1368.2,613 1368.5,614.1 1368.8,615.1 1368.9,616 1369,616.7 1372,616.3 1371.9,615.7 1371.9,614.8 1372,613.8 1372.1,612.7 1372.2,611.4 1372.2,610.1 1372.2,608.7 1372.1,607.4 1371.9,606 1371.7,604.7 1371.5,603.4 1371.1,602.3 1370.7,601.2 1370.2,600.2 1369.7,599.4 1369.1,598.6 1368.5,597.9 1367.9,597.3 1367.4,596.7 1366.8,596.1 1366.4,595.6 1365.9,595.2 1365.5,594.7 1365.1,594.1 1364.7,593.5 1364.2,592.7 1363.7,591.9 1363.2,591.1 1362.7,590.2 1362.2,589.4 1361.6,588.6 1361.1,587.8 1360.6,587.1 1360.2,586.4 1359.9,585.8 1359.7,585.4Z"/><path d="M1398.1,644.3 1398.6,644.8 1399.2,645.4 1399.8,646.3 1400.5,647.2 1401.3,648.2 1402.2,649.2 1403.2,650.2 1404.2,651.2 1405.2,652.2 1406.2,653.2 1407.2,654.1 1408.1,655 1409.1,655.9 1410.2,656.9 1411.4,657.9 1412.6,659 1413.8,660 1415,661 1416.2,661.9 1417.4,662.8 1418.5,663.5 1419.6,664.2 1420.4,664.7 1421,665.3 1423,663.1 1422.4,662.6 1421.8,661.8 1421.1,660.8 1420.3,659.7 1419.4,658.6 1418.4,657.4 1417.3,656.3 1416.2,655.1 1415,654 1413.9,652.9 1412.9,651.9 1411.9,651 1410.9,650.1 1409.8,649.2 1408.7,648.3 1407.6,647.4 1406.5,646.5 1405.4,645.6 1404.3,644.9 1403.2,644.2 1402.3,643.6 1401.3,643.1 1400.6,642.6 1400.1,642.1Z"/><path d="M1484,625.2 1484.5,625.7 1485.1,626.2 1485.8,626.9 1486.4,627.7 1487.2,628.6 1488,629.5 1488.8,630.4 1489.6,631.3 1490.4,632.3 1491.1,633.2 1491.8,634.2 1492.3,635.1 1492.8,636 1493.2,637 1493.7,638.1 1494.1,639.3 1494.5,640.6 1494.9,641.9 1495.3,643.2 1495.8,644.6 1496.2,646 1496.7,647.3 1497.3,648.7 1497.9,650 1498.6,651.3 1499.3,652.6 1500.1,653.9 1500.9,655.2 1501.8,656.4 1502.6,657.6 1503.4,658.8 1504.3,659.9 1505.1,660.8 1505.8,661.6 1506.2,662.4 1506.6,663.1 1509.2,661.5 1508.8,660.9 1508.3,660.1 1507.9,659.1 1507.5,657.9 1506.9,656.7 1506.3,655.5 1505.7,654.1 1505.1,652.8 1504.4,651.5 1503.8,650.2 1503.2,649 1502.7,647.8 1502.2,646.7 1501.8,645.5 1501.4,644.2 1501,642.9 1500.6,641.6 1500.1,640.2 1499.7,638.9 1499.2,637.5 1498.7,636.2 1498.1,634.8 1497.4,633.6 1496.7,632.3 1495.9,631.2 1494.9,630.1 1493.9,629.1 1492.9,628.1 1491.8,627.2 1490.8,626.4 1489.8,625.7 1488.8,625 1487.8,624.5 1487.1,623.9 1486.5,623.4 1486,623Z"/><path d="M1536.6,705.4 1537,705.8 1537.4,706.3 1537.9,707 1538.4,707.7 1539,708.5 1539.6,709.3 1540.3,710.1 1541.1,710.9 1541.8,711.7 1542.6,712.5 1543.4,713.3 1544.1,714 1544.9,714.7 1545.7,715.5 1546.7,716.4 1547.6,717.3 1548.6,718.1 1549.6,718.9 1550.6,719.7 1551.6,720.4 1552.5,721 1553.4,721.5 1554.1,722 1554.5,722.5 1556.7,720.3 1556.2,719.9 1555.7,719.2 1555.2,718.3 1554.6,717.4 1553.8,716.4 1553.1,715.4 1552.2,714.4 1551.3,713.5 1550.4,712.5 1549.5,711.6 1548.7,710.8 1547.9,710 1547.1,709.3 1546.3,708.6 1545.4,707.8 1544.5,707.1 1543.6,706.5 1542.8,705.8 1541.9,705.3 1541.1,704.7 1540.3,704.3 1539.6,704 1539,703.6 1538.6,703.2Z"/><path d="M1335.7,628.5 1336.3,628.6 1337,628.9 1337.8,629.3 1338.7,629.7 1339.7,630.1 1340.7,630.4 1341.8,630.8 1342.9,631.2 1344,631.5 1345.1,631.9 1346.1,632.2 1347,632.6 1348,632.9 1349,633.4 1350.1,633.9 1351.3,634.4 1352.4,634.9 1353.6,635.3 1354.8,635.8 1355.9,636.2 1356.9,636.5 1357.9,636.8 1358.7,637 1359.3,637.3 1360.7,634.7 1360.1,634.4 1359.5,633.9 1358.8,633.2 1357.9,632.5 1356.9,631.8 1355.9,631 1354.8,630.3 1353.6,629.6 1352.4,629 1351.3,628.4 1350.1,627.9 1349,627.4 1347.8,627 1346.6,626.7 1345.4,626.4 1344.2,626.2 1343,626 1341.8,625.8 1340.6,625.7 1339.5,625.7 1338.5,625.7 1337.6,625.7 1336.9,625.7 1336.3,625.5Z"/></g>
  <!-- slab -->
  <path d="M1822,222.5C1821.9,220 1816.5,214.6 1813.6,213C1810.8,211.4 1808.5,212.9 1804.9,212.9C1801.4,212.8 1797,212.8 1792.5,212.9C1788,212.9 1783,212.9 1778.1,213C1773.3,213.1 1768.1,213.1 1763.5,213.2C1758.8,213.3 1754.3,213.4 1750.2,213.6C1746.1,213.7 1742.4,214 1738.6,214.2C1734.9,214.4 1731.2,214.6 1727.6,214.9C1724,215.1 1720.5,215.4 1716.9,215.7C1713.3,216 1709.8,216.3 1706.2,216.6C1702.6,217 1699,217.3 1695.4,217.7C1691.7,218 1688,218.4 1684.3,218.7C1680.6,219.1 1676.9,219.5 1673.1,219.9C1669.3,220.3 1665.5,220.7 1661.7,221.2C1657.9,221.6 1654.1,222.1 1650.3,222.7C1646.5,223.3 1642.7,223.9 1638.9,224.6C1635.2,225.3 1631.4,226.2 1627.8,227C1624.1,227.9 1620.4,228.8 1616.8,229.7C1613.2,230.7 1609.6,231.7 1606.1,232.7C1602.6,233.7 1599.1,234.7 1595.6,235.7C1592.1,236.7 1588.7,237.7 1585.3,238.7C1581.9,239.8 1578.5,240.8 1575.1,241.8C1571.7,242.9 1568.3,243.9 1564.9,245C1561.4,246.1 1558,247.2 1554.6,248.4C1551.2,249.5 1547.7,250.7 1544.2,252C1540.8,253.3 1537.3,254.6 1533.8,256C1530.3,257.4 1526.8,258.8 1523.3,260.3C1519.8,261.8 1516.3,263.4 1512.8,265C1509.2,266.5 1505.7,268.2 1502.2,269.9C1498.7,271.6 1495.2,273.3 1491.8,275C1488.4,276.8 1485,278.6 1481.7,280.4C1478.4,282.2 1475.3,284.1 1472.1,285.9C1468.9,287.8 1465.8,289.7 1462.7,291.6C1459.7,293.5 1456.6,295.5 1453.6,297.5C1450.6,299.6 1447.6,301.6 1444.7,303.8C1441.7,305.9 1438.9,308.2 1436,310.4C1433,312.7 1430,314.9 1427,317.2C1424.1,319.6 1421.1,322 1418.3,324.5C1415.4,326.9 1412.6,329.4 1409.9,331.8C1407.2,334.3 1404.5,336.8 1402,339.2C1399.5,341.7 1397,344 1394.7,346.4C1392.3,348.8 1390.1,351 1387.9,353.4C1385.7,355.7 1383.5,358 1381.5,360.3C1379.4,362.7 1377.4,365.1 1375.4,367.5C1373.5,369.9 1371.6,372.3 1369.8,374.9C1367.9,377.4 1366.1,379.9 1364.4,382.6C1362.7,385.3 1361.1,388.2 1359.6,391.1C1358.1,393.9 1356.8,396.7 1355.5,399.5C1354.2,402.2 1353,405 1352,407.6C1350.9,410.2 1349.9,412.8 1348.9,415.3C1347.9,417.8 1347,420 1346.1,422.5C1345.2,425 1344.3,427.6 1343.5,430.1C1342.7,432.6 1342,435.2 1341.4,437.6C1340.7,440 1340.1,442.3 1339.5,444.5C1339,446.8 1338.5,448.9 1337.9,451C1337.4,453.1 1337,454.9 1336.4,457.1C1335.9,459.2 1335.2,461.6 1334.7,463.9C1334.1,466.2 1333.6,468.6 1333.1,470.8C1332.6,473 1332.1,475.2 1331.6,477.2C1331.2,479.1 1330.7,480.9 1330.3,482.4C1330,483.8 1330.4,483.3 1329.3,485.8C1328.1,488.3 1327.3,491.6 1323.5,497.5C1319.7,503.4 1313.5,514.4 1306.2,521C1299,527.6 1290.8,531.8 1280,537C1269.2,542.2 1254.8,548.8 1241.6,552.4C1228.4,556 1214.5,555.8 1201,558.5C1187.5,561.2 1171.3,564.2 1160.5,568.6C1149.7,573 1141.3,579.4 1136.2,584.8C1131.1,590.2 1130.1,594.9 1130.1,601C1130.1,607.1 1131.8,614.5 1136.2,621.3C1140.6,628.1 1148.4,634.5 1156.5,641.6C1164.6,648.7 1169.4,657.9 1185,664C1200.6,670.1 1229.2,674.3 1250,678C1270.8,681.7 1291.5,686 1310,686C1328.5,686 1352.2,681.4 1361,678C1369.8,674.6 1362.2,670.3 1362.5,665.9C1362.8,661.5 1364,656.4 1363.1,651.7C1362.2,647 1360.4,641.2 1357,637.5C1353.6,633.8 1350,632.4 1342.9,629.4C1335.8,626.4 1321.9,622.3 1314.5,619.3C1307.1,616.3 1301.7,614.2 1298.3,611.2C1294.9,608.2 1293.5,605 1294.2,601C1294.9,597 1297.6,590.6 1302.3,586.9C1307,583.2 1312.5,582.2 1322.6,578.8C1332.7,575.4 1353,571.3 1363.1,566.6C1373.2,561.9 1378.7,556.1 1383.4,550.4C1388.1,544.7 1390.1,538.6 1391.5,532.2C1392.9,525.8 1392.1,518.3 1392,512C1391.9,505.7 1390.9,497.8 1390.7,494.2C1390.5,490.5 1390.6,491.7 1390.6,490.1C1390.6,488.6 1390.7,486.7 1390.7,484.8C1390.8,483 1390.8,480.9 1390.9,478.8C1391,476.8 1391.1,474.7 1391.2,472.7C1391.3,470.7 1391.4,468.9 1391.6,466.9C1391.7,464.9 1392,462.8 1392.3,460.8C1392.5,458.8 1392.7,456.8 1393,454.8C1393.2,452.8 1393.4,450.9 1393.7,449C1394,447.1 1394.3,445.2 1394.7,443.3C1395,441.4 1395.4,439.6 1395.9,437.5C1396.4,435.4 1396.9,433 1397.5,430.8C1398,428.5 1398.6,426.2 1399.2,424C1399.8,421.8 1400.4,419.6 1401.1,417.4C1401.7,415.3 1402.4,413.2 1403.2,411.2C1403.9,409.2 1404.7,407.4 1405.6,405.4C1406.4,403.4 1407.4,401.4 1408.5,399.4C1409.5,397.3 1410.6,395.3 1411.8,393.2C1413.1,391.2 1414.4,389.1 1415.8,386.9C1417.2,384.8 1418.6,382.7 1420.2,380.4C1421.8,378.2 1423.5,375.9 1425.3,373.6C1427.1,371.3 1429.1,368.8 1431.1,366.4C1433.1,364 1435.2,361.4 1437.4,359C1439.5,356.5 1441.8,354 1444.1,351.5C1446.4,349.1 1448.7,346.7 1451,344.3C1453.4,342 1455.6,339.7 1458,337.6C1460.5,335.4 1463,333.5 1465.5,331.5C1468.1,329.6 1470.6,327.7 1473.3,325.8C1475.9,323.9 1478.5,322 1481.3,320.2C1484,318.4 1486.8,316.6 1489.6,314.8C1492.4,313 1495.3,311.3 1498.3,309.6C1501.2,307.8 1504.2,306.2 1507.3,304.5C1510.4,302.8 1513.6,301.2 1516.8,299.6C1520,298 1523.3,296.4 1526.6,294.8C1529.8,293.3 1533.2,291.8 1536.4,290.3C1539.7,288.8 1543,287.4 1546.2,286C1549.4,284.7 1552.5,283.4 1555.7,282.1C1558.9,280.8 1562,279.6 1565.2,278.5C1568.4,277.3 1571.6,276.1 1574.9,275C1578.1,273.9 1581.4,272.8 1584.7,271.6C1588,270.5 1591.3,269.4 1594.7,268.3C1598.1,267.1 1601.5,265.9 1604.8,264.8C1608.2,263.6 1611.6,262.5 1614.9,261.4C1618.3,260.2 1621.6,259.1 1625,258.1C1628.3,257.1 1631.6,256 1635,255.1C1638.4,254.1 1641.7,253.3 1645.1,252.4C1648.5,251.6 1651.9,250.7 1655.3,249.9C1658.8,249.2 1662.4,248.4 1665.9,247.7C1669.5,247 1673.1,246.4 1676.8,245.7C1680.4,245.1 1684.1,244.4 1687.7,243.8C1691.3,243.2 1695,242.6 1698.6,241.9C1702.2,241.3 1705.7,240.7 1709.2,240.1C1712.7,239.6 1716.1,239 1719.6,238.4C1723.1,237.9 1726.5,237.4 1730,236.9C1733.5,236.4 1737,235.9 1740.6,235.4C1744.3,234.9 1747.8,234.5 1751.8,234C1755.8,233.6 1760.1,233.1 1764.6,232.6C1769.2,232.1 1774.3,231.7 1779,231.3C1783.8,230.8 1788.9,230.4 1793.3,230C1797.7,229.7 1802.1,229.3 1805.6,228.9C1809.2,228.6 1811.6,229.1 1814.4,228C1817.1,226.9 1822.1,225 1822,222.5Z" fill="url(#gS)" filter="url(#b2)"/>
<!-- ULVZ blobs -->
<g>
  <path d="M503,751 C502,745 505,740 510,737 C517,732 525,728 533,725 C542,722 550,720 558,717.5 C563,714.5 566,711.5 570.5,710.5 C575,710 579,712 581,716 C583,720 583.6,724 583.2,728 L583.2,740 L503,770 Z" fill="url(#gUa)" filter="url(#b1)"/>
  <path d="M692,684 C692,676 697,671.5 705,670.5 C715,669.5 727,670 735,671 C742,667 748,662.5 757,662.5 C767,662.5 775,664 777,669 C778.5,672 778.5,675 778.5,680 L778.5,688 L692,705 L692,684 Z" fill="url(#gUb)" filter="url(#b1)"/>
  <path d="M1072.4,652 C1072,646 1073,643 1076,640 C1082,634 1090,631 1097,628 C1103,625 1105,621 1108,617 C1112,612 1116,610.5 1120,610.5 C1125,610.5 1129,613 1131.5,617 C1134,622 1137,627 1142,632 C1148,638 1156,642 1165,645 C1175,648 1184,651 1187.5,655 C1189,657.5 1189.5,661 1189.5,664 L1189.5,670 L1070,662 Z" fill="url(#gU2)" filter="url(#b1)"/>
</g>
</g>
<path d="M1281,676 C1281,671 1282.5,667.5 1285,666 C1288,664 1292,663.5 1295,664.3 C1299,665.5 1302,668 1306,669.3 C1312,670.5 1320,669.8 1330,669 C1340,668.3 1348,669 1356,671.5 C1364,674 1370,677 1372.5,681 C1374,685 1373,689 1369,691.2 C1365,693 1359,693.5 1355,693 L1281,678 Z" fill="url(#gUc)" filter="url(#b1)"/>
<!-- outlines -->
<path d="M30.5,330.5 A1944,1944 0 0 1 2026.3,328.6 L1643,800.5 L413,801.5 Z" fill="none" stroke="#111" stroke-width="2" stroke-linejoin="miter"/>
<path d="M413,801.5 A1360,1360 0 0 1 1643,800.5" fill="none" stroke="#111" stroke-width="2.2"/>
<path d="M111.3,427.6C113.4,426.4 118.9,423.4 123.8,420.5C128.7,417.6 136.5,412.7 140.5,410.3C144.5,407.9 144.9,407.7 147.7,406.1C150.5,404.5 154.4,403.1 157.2,400.8C160,398.5 161.6,394.8 164.4,392.4C167.2,390 170.7,388.5 173.9,386.5C177.1,384.5 179.8,382.4 183.4,380.5C187,378.6 192.2,376.9 195.4,375.2C198.6,373.5 200.1,372.5 202.5,370.4C204.9,368.3 206.9,364.8 209.7,362.6C212.5,360.4 215.6,359.3 219.2,357.3C222.8,355.3 227.1,352.6 231.1,350.7C235.1,348.8 238.6,347 243,346C247.4,345 252.9,345.6 257.3,344.8C261.7,344 266.1,342.8 269.2,341.2C272.3,339.6 273.7,337.4 276,335.5C278.3,333.6 280.3,331.3 283.1,329.6C285.9,327.9 287.8,326.5 292.6,325.4C297.4,324.3 304.1,326 311.7,322.9C319.3,319.8 329.2,311.3 338.4,306.7C347.6,302.1 358.4,298 367,295.3C375.6,292.6 383.3,292 390,290.5C396.7,289 401.8,288.6 407.2,286.3C412.6,284 415.7,279.7 422.4,276.8C429.1,273.9 440.8,271.9 447.2,269.2C453.6,266.5 456.6,262.2 460.6,260.6C464.6,259 468.2,261 471.1,259.6C474,258.2 474.4,254.1 477.7,252C481,249.9 487.8,247.8 491.1,247.2C494.5,246.6 494.9,248.8 497.8,248.2C500.7,247.6 503.4,244.8 508.3,243.4C513.2,242 520,240.7 527.3,239.6C534.6,238.5 544.8,237.7 552.1,237.1C559.4,236.5 567.2,237 571.2,235.8C575.2,234.6 574.5,233.1 576,230C577.5,226.9 578.7,220.8 580,217C581.3,213.2 582.6,209.1 584,207C585.4,204.9 586.9,204.6 588.4,204.3C589.9,204.1 591.1,204.3 593,205.5C594.9,206.7 597,208.7 600,211.5C603,214.3 608.2,220.3 611,222.5C613.8,224.7 614.2,225.1 616.5,224.8C618.8,224.5 621.7,222.2 624.6,220.5C627.5,218.8 630.3,215.3 634.1,214.8C637.9,214.3 641.8,218.3 647.5,217.7C653.2,217.1 663.4,212.1 668.5,211C673.6,209.9 673.5,212.2 678,211C682.5,209.8 689.6,204.8 695.3,203.8C701,202.9 704.8,206.5 712.4,205.3C720,204.1 732.4,198 741,196.7C749.6,195.4 756.3,198.9 763.9,197.3C771.5,195.7 774.7,188.7 786.8,187.2C798.9,185.7 824,188.6 836.4,188.1C848.8,187.6 851.7,185 861.2,184C870.7,183 882.5,183.8 893.6,182C904.7,180.2 919.1,173.8 928,172.9C936.9,172 941.3,175.7 947,176.3C952.7,176.9 955.3,177.3 962.3,176.7C969.3,176.1 979.9,172.9 989.1,172.8C998.3,172.7 1006.3,176.3 1017.7,175.9C1029.1,175.5 1047.9,170.8 1057.7,170.5C1067.5,170.2 1069.5,172.6 1076.8,174.3C1084.1,176.1 1095.2,180.2 1101.6,181C1108,181.8 1110.9,179.9 1115,179.1C1119.1,178.2 1121,175.3 1126.4,175.9C1131.8,176.5 1138.5,181.1 1147.4,182.9C1156.3,184.7 1168,185.8 1179.8,186.7C1191.6,187.6 1206.9,187.6 1218,188.6C1229.1,189.6 1239.6,191.5 1246.6,192.5C1253.6,193.5 1254.6,193.6 1260,194.4C1265.4,195.2 1274.7,197.1 1279,197.5C1283.3,197.9 1284.8,196.9 1286,196.8L1292,198.5L1300,200.5L1302.6,202.7L1306.3,202.2L1308.5,205.4L1312,205.5L1313.5,206L1315,204.8L1316.5,206.2L1318,205L1319.5,206.2L1321,205L1322.5,206.2L1324,205L1325.5,206L1327,204.8L1328.5,206.4L1330,205.5L1332.6,206.5L1334.9,203.7L1337.7,206.5L1340,204.5L1342.1,207.2L1345.6,204.1L1347.3,207.9L1350.8,205L1352.6,208.8L1355.9,206.4L1358,209L1362,214L1364.3,215.1L1366.4,212.7L1368.8,214.7L1370.9,212.2L1373.3,215.1L1375.4,212.1L1377.8,214.6L1380,213L1382,215.6L1385.7,213.4L1387.3,217.3L1390.8,215.5L1393,217.5L1395.3,219L1398.2,217.3L1400.2,220.4L1403.2,218L1405.3,221L1408.3,218.7L1410.3,222L1413.2,219.9L1415.2,223.2L1418,222L1420.5,224.6L1424.4,222.5L1426.5,226.3L1430,225.5L1434,222.8L1439.4,229.8L1456.6,229L1458.4,231.2L1461.8,228.9L1462.9,232.9L1466.1,231L1467.4,234.7L1470.7,232.7L1472.2,235.8L1475.4,233.7L1476.8,237.1L1479.9,235.5L1481.4,238.6L1484.5,236.9L1486.3,239.2L1488.5,241.9L1492.4,239.5L1494.1,243.9L1498,241.6L1500.3,243.9L1503,244.9L1505.3,242.1L1508,243.1L1510.1,244.7L1513,243.4L1514.8,246.2L1517.8,244.4L1519.5,247.2L1522.4,245.8L1524.3,248.2L1527.2,247.1L1529,249.8L1531.6,249.4L1533.6,251.2L1536.6,249.6L1538.4,252.1L1541.2,251.2L1543,253.6L1545.6,253.3L1547.2,254.1L1549,254.4C1549.6,255.1 1551.9,256.5 1552.7,258.8C1553.5,261.1 1553.4,265.2 1554,268C1554.6,270.8 1555.4,274 1556.4,275.8C1557.4,277.6 1557.4,279 1560,278.6C1562.6,278.2 1567.7,275.5 1572,273.5C1576.3,271.5 1581.8,267.2 1585.8,266.5C1589.8,265.8 1594.3,268.6 1596,269L1605,272.5L1610,279.2L1612.7,281.6L1616.5,279.6L1619,282.9L1622.7,281.4L1625,285.2L1628.9,283L1631.7,285L1634.3,288.2L1639.2,287.4L1641.7,290.8L1644.5,293.6L1648.6,291.4L1651.3,294.9L1655,294.2L1657.7,296.1L1661.1,293.2L1663.5,297.1L1666.7,295.8L1671.7,295.8L1677.5,303.3L1680.5,305.2L1683.8,302.6L1686.8,305.2L1690,304.2L1703.3,309.2L1709.2,315.8L1712.9,318.2L1717.7,315.3L1720.8,320.6L1725.5,317.8L1729,321.3L1733.3,320.8L1736,323.5L1740.5,322.6L1742.5,326.8L1747.2,325.2L1749.8,328.3L1752.9,330.7L1756.9,331.2L1760,333.4L1762.7,336.3L1767.3,335.6L1769.4,339.8L1774.2,338.4L1776,343.2L1780.7,342.1L1783.4,345.1L1786.3,348.2L1791.2,346.3L1793.7,350.4L1798.4,348.9L1800.5,354L1805.6,351.8L1808.4,355.1L1810.9,357.4L1814.6,356.3L1816.8,359.2L1820.1,359.3L1822.5,361.4L1825.8,362L1827.9,364.7L1831.1,365.6L1833.5,367.6L1835.7,370.3L1839.6,370.4L1841.2,374.1L1845.2,374.1L1846.9,377.4L1850.2,378.5L1853.1,381L1857.3,380L1859.6,383.8L1863.9,382.8L1866.8,385.1L1868.9,388.7L1874,387.4L1875.6,391.8L1880,391.5L1881.7,395.8L1886.4,395.2L1888.1,399.4L1891.9,400.2L1894.3,403.3L1899,401.4L1900.7,405.8L1905,404.7L1907.1,408.4L1911.1,407.9L1913.2,411.5L1916.9,411.8L1919.6,414.7L1924.5,413.4L1926.4,418L1930.8,417.5L1933.6,420.2L1935.8,423L1940,422L1942,425.4L1945.3,426" fill="none" stroke="#111" stroke-width="2.1" stroke-linejoin="round"/>
<!-- leader lines -->
<g stroke="#111" stroke-width="1.8" fill="none">
  <path d="M552.2,725.6 L605.1,743.2"/>
  <path d="M735.3,677 L706.6,725.6"/>
  <path d="M1116,644.4 L1162.5,704"/>
  <path d="M1282.9,708.7 L1330.6,680.1"/>
  <path d="M1115.8,585.2 L1115.8,616.8" stroke-width="1.5"/>
</g>
<g stroke="#6a6d6a" stroke-width="1.8" fill="none">
  <path d="M818.2,452.4 L844,437.2"/>
  <path d="M1356,686 L1356,725.7"/>
</g>
<!-- text -->
<g fill="#111">
  <text x="874.8" y="133.2" font-size="46.5" font-weight="bold" textLength="280" lengthAdjust="spacingAndGlyphs">Upper mantle</text>
  <text x="873.3" y="244" font-size="46.5" font-weight="bold" textLength="283" lengthAdjust="spacingAndGlyphs">Lower mantle</text>
  <text x="905.4" y="744.9" font-size="44" font-weight="bold" textLength="218" lengthAdjust="spacingAndGlyphs">Outer core</text>
  <text x="517" y="651.5" font-size="34" textLength="104.2" lengthAdjust="spacingAndGlyphs">LLSVP</text>
  <text x="614.5" y="757.4" font-size="35" textLength="102.8" lengthAdjust="spacingAndGlyphs">ULVZs</text>
  <text x="1167.2" y="719.7" font-size="35" textLength="102.6" lengthAdjust="spacingAndGlyphs">ULVZs</text>
  <text x="1063.3" y="573.4" font-size="24" textLength="296" lengthAdjust="spacingAndGlyphs">H<tspan font-size="15" dy="4">2</tspan><tspan dy="-4">O+Fe=FeO/FeO</tspan><tspan font-size="15" dy="4">2</tspan><tspan dy="-4">H</tspan><tspan font-size="17" dy="4">x</tspan><tspan dy="-4">+FeH</tspan></text>
  <text transform="translate(143.6,384.7) rotate(-25)" font-size="47" font-weight="bold" textLength="143" lengthAdjust="spacingAndGlyphs">660km</text>
</g>
<g fill="#6a6d6a">
  <text x="846.5" y="447.3" font-size="27.5" textLength="210.2" lengthAdjust="spacingAndGlyphs">Seismic scatters</text>
  <text x="1275.4" y="751.5" font-size="27.5" textLength="189" lengthAdjust="spacingAndGlyphs">FeH exsolution</text>
</g>
</svg>
</body></html>
